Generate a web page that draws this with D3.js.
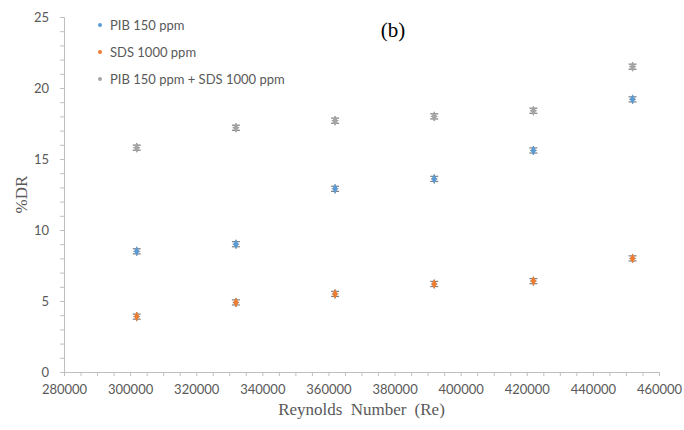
<!DOCTYPE html>
<html>
<head>
<meta charset="utf-8">
<script src="https://cdn.jsdelivr.net/npm/d3@7"></script>
<style>
  body { margin: 0; background: #fff; }
  svg { display: block; }
</style>
</head>
<body>
<svg id="chart" width="684" height="430"></svg>
<script>
// data
const reynolds = [302000, 332000, 362000, 392000, 422000, 452000];
const pib = [8.5, 9.0, 12.9, 13.6, 15.6, 19.2];
const sds = [3.9, 4.9, 5.5, 6.2, 6.4, 8.0];
const both = [15.8, 17.2, 17.7, 18.0, 18.4, 21.5];
const seriesNames = ["PIB 150 ppm", "SDS 1000 ppm", "PIB 150 ppm + SDS 1000 ppm"];
const seriesColors = ["#5B9BD5", "#ED7D31", "#A5A5A5"];
const xTicks = [280000, 300000, 320000, 340000, 360000, 380000, 400000, 420000, 440000, 460000];
const yTicks = [0, 5, 10, 15, 20, 25];

const svg = d3.select('#chart');
const margin = {left: 64, right: 25, top: 17, bottom: 58};
const W = 684, H = 430;

const x = d3.scaleLinear().domain([280000, 460000]).range([margin.left, W - margin.right]);
const y = d3.scaleLinear().domain([0, 25]).range([H - margin.bottom, margin.top]);

const axisColor = "#BFBFBF";
const labelColor = "#595959";

// y axis, minor ticks every 1
svg.append('g')
  .attr('transform', `translate(${margin.left},0)`)
  .call(d3.axisLeft(y).tickValues(d3.range(0, 26, 1)).tickSize(4).tickFormat(""))
  .call(g => g.selectAll('line, path').attr('stroke', axisColor));

svg.append('g')
  .attr('transform', `translate(${margin.left},0)`)
  .call(d3.axisLeft(y).tickValues(yTicks).tickSize(0).tickPadding(15))
  .call(g => g.select('path').remove())
  .call(g => g.selectAll('text')
    .attr('fill', labelColor)
    .style('font-family', 'Lato, "Open Sans", sans-serif')
    .style('font-size', '13px'));

// x axis, minor ticks every 5000
svg.append('g')
  .attr('transform', `translate(0,${y(0)})`)
  .call(d3.axisBottom(x).tickValues(d3.range(280000, 460001, 5000)).tickSize(4).tickFormat(""))
  .call(g => g.selectAll('line, path').attr('stroke', axisColor));

svg.append('g')
  .attr('transform', `translate(0,${y(0)})`)
  .call(d3.axisBottom(x).tickValues(xTicks).tickSize(0).tickPadding(13).tickFormat(d3.format("d")))
  .call(g => g.select('path').remove())
  .call(g => g.selectAll('text')
    .attr('fill', labelColor)
    .style('font-family', 'Lato, "Open Sans", sans-serif')
    .style('font-size', '13px'));

// axis titles
svg.append('text')
  .attr('x', x(370000))
  .attr('y', 415)
  .attr('text-anchor', 'middle')
  .attr('fill', labelColor)
  .style('font-family', '"Liberation Serif", serif')
  .style('font-size', '17px')
  .style('word-spacing', '4px')
  .text('Reynolds Number (Re)');

svg.append('text')
  .attr('transform', `translate(27,${y(12.5)}) rotate(-90)`)
  .attr('text-anchor', 'middle')
  .attr('fill', labelColor)
  .style('font-family', '"Liberation Serif", serif')
  .style('font-size', '17px')
  .text('%DR');

svg.append('text')
  .attr('x', 393)
  .attr('y', 37)
  .attr('text-anchor', 'middle')
  .attr('fill', '#000')
  .style('font-family', '"Liberation Serif", serif')
  .style('font-size', '21px')
  .text('(b)');

// points with small error bars
const allSeries = [pib, sds, both];
const errY = 0.18, errX = 1000;
allSeries.forEach((vals, i) => {
  const pts = reynolds.map((r, j) => ({r: r, v: vals[j]}));
  const g = svg.append('g');
  const bars = g.selectAll('g.pt').data(pts).enter().append('g').classed('pt', true);
  // vertical error bar
  bars.append('line')
    .attr('x1', d => x(d.r)).attr('x2', d => x(d.r))
    .attr('y1', d => y(d.v - errY) + 2).attr('y2', d => y(d.v + errY) - 2)
    .attr('stroke', '#7F7F7F').attr('stroke-width', 1.2);
  // caps
  [-errY, errY].forEach(e => {
    bars.append('line')
      .attr('x1', d => x(d.r) - 4).attr('x2', d => x(d.r) + 4)
      .attr('y1', d => y(d.v + e)).attr('y2', d => y(d.v + e))
      .attr('stroke', '#7F7F7F').attr('stroke-width', 1.2);
  });
  // horizontal error bar
  bars.append('line')
    .attr('x1', d => x(d.r - errX)).attr('x2', d => x(d.r + errX))
    .attr('y1', d => y(d.v)).attr('y2', d => y(d.v))
    .attr('stroke', '#7F7F7F').attr('stroke-width', 1);
  // marker on top
  bars.append('path')
    .attr('d', d3.symbol().type(d3.symbolDiamond).size(26))
    .attr('transform', d => `translate(${x(d.r)},${y(d.v)})`)
    .attr('fill', seriesColors[i]);
});

// legend
const legend = svg.append('g');
seriesNames.forEach((name, i) => {
  const ly = 25 + i * 27;
  legend.append('circle')
    .attr('cx', 100).attr('cy', ly).attr('r', 2)
    .attr('fill', seriesColors[i]);
  legend.append('text')
    .attr('x', 110).attr('y', ly + 4.5)
    .attr('fill', labelColor)
    .style('font-family', 'Lato, "Open Sans", sans-serif')
    .style('font-size', '13px')
    .text(name);
});
</script>
</body>
</html>
